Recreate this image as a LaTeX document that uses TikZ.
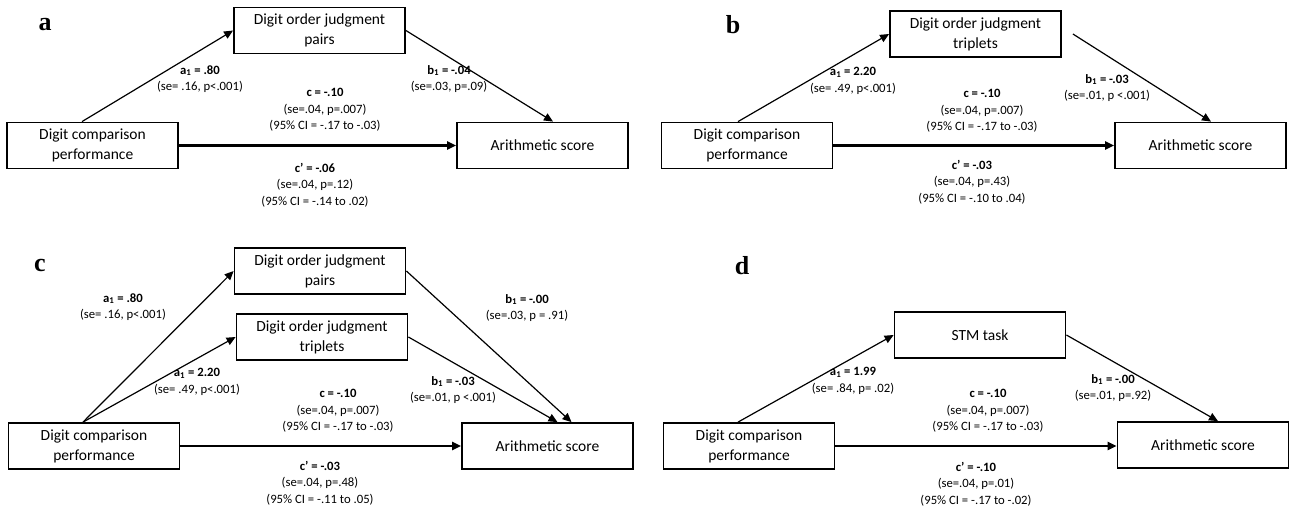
\documentclass[tikz,border=0pt]{standalone}
\usepackage{fontspec}
\setmainfont{Carlito}
\newfontfamily\panelfont{Liberation Serif}
\usepackage{tikz}
\usetikzlibrary{arrows.meta,positioning}

\begin{document}
\begin{tikzpicture}[
        x=1pt, y=-1pt,
        varbox/.style={draw, line width=1.8pt, minimum width=171pt,
            minimum height=46pt, inner sep=0pt, align=center,
            font=\fontsize{15.5}{20}\selectfont},
        coeflabel/.style={inner sep=0pt, align=center,
            font=\fontsize{12.7}{16.5}\selectfont},
        panellabel/.style={inner sep=0pt,
            font=\panelfont\bfseries\fontsize{26}{26}\selectfont},
        patharrow/.style={-{Triangle[length=9pt,width=8pt]}, line width=1.2pt},
        directarrow/.style={-{Triangle[length=9pt,width=8pt]}, line width=2.6pt}
    ]
                \useasboundingbox (0,0) rectangle (1290,509);

                % panel a
                \node[panellabel] (alabel) at (45,25) {a};
                \node[varbox] (adcp) at (92.5,145.5) {Digit comparison\\performance};
                \node[varbox] (amed) at (319.5,30.5) {Digit order judgment\\pairs};
                \node[varbox] (aout) at (542.5,145.5) {Arithmetic score};

                \draw[
                    patharrow
                ] ([xshift=-10.5pt]adcp.north) to (amed.west);

                \draw[
                    patharrow
                ] (amed.east) to ([xshift=10.5pt]aout.north);

                \draw[
                    directarrow
                ] (adcp.east) to (adcp.east -| aout.west);

                \node[coeflabel] (aapath) at (200,79) {\textbf{a\textsubscript{1} = .80}\\(se= .16, p<.001)};
                \node[coeflabel] (abpath) at (449,79) {\textbf{b\textsubscript{1} = -.04}\\(se=.03, p=.09)};
                \node[coeflabel] (actotal) at (325,110) {\textbf{c = -.10}\\(se=.04, p=.007)\\(95\% CI = -.17 to -.03)};
                \node[coeflabel] (acdirect) at (315,185) {\textbf{c' = -.06}\\(se=.04, p=.12)\\(95\% CI = -.14 to .02)};

                % panel b
                \node[panellabel] (blabel) at (733,25) {b};
                \node[varbox] (bdcp) at (747,145.5) {Digit comparison\\performance};
                \node[varbox] (bmed) at (975.5,34) {Digit order judgment\\triplets};
                \node[varbox] (bout) at (1200.5,145.5) {Arithmetic score};

                \draw[
                    patharrow
                ] ([xshift=-9pt]bdcp.north) to (bmed.west);

                \draw[
                    patharrow
                ] ([xshift=11pt]bmed.east) to ([xshift=10.5pt]bout.north);

                \draw[
                    directarrow
                ] (bdcp.east) to (bdcp.east -| bout.west);

                \node[coeflabel] (bapath) at (853,81) {\textbf{a\textsubscript{1} = 2.20}\\(se= .49, p<.001)};
                \node[coeflabel] (bbpath) at (1107,88) {\textbf{b\textsubscript{1} = -.03}\\(se=.01, p <.001)};
                \node[coeflabel] (bctotal) at (982,111) {\textbf{c = -.10}\\(se=.04, p=.007)\\(95\% CI = -.17 to -.03)};
                \node[coeflabel] (bcdirect) at (972,182) {\textbf{c' = -.03}\\(se=.04, p=.43)\\(95\% CI = -.10 to .04)};

                % panel c
                \node[panellabel] (clabel) at (40,265) {c};
                \node[varbox] (cdcp) at (94,446) {Digit comparison\\performance};
                \node[varbox] (cmedpairs) at (320,271) {Digit order judgment\\pairs};
                \node[varbox] (cmedtriplets) at (322,337) {Digit order judgment\\triplets};
                \node[varbox] (cout) at (547.5,446) {Arithmetic score};

                \draw[
                    patharrow
                ] ([xshift=-11pt]cdcp.north) to (cmedpairs.west);

                \draw[
                    patharrow
                ] ([xshift=-11pt]cdcp.north) to (cmedtriplets.west);

                \draw[
                    patharrow
                ] (cmedpairs.east) to ([xshift=24pt]cout.north);

                \draw[
                    patharrow
                ] (cmedtriplets.east) to ([xshift=10pt]cout.north);

                \draw[
                    directarrow
                ] (cdcp.east) to (cdcp.east -| cout.west);

                \node[coeflabel] (capairs) at (123,307) {\textbf{a\textsubscript{1} = .80}\\(se= .16, p<.001)};
                \node[coeflabel] (catriplets) at (197,382) {\textbf{a\textsubscript{1} = 2.20}\\(se= .49, p<.001)};
                \node[coeflabel] (cbpairs) at (527,308) {\textbf{b\textsubscript{1} = -.00}\\(se=.03, p = .91)};
                \node[coeflabel] (cbtriplets) at (453,390) {\textbf{b\textsubscript{1} = -.03}\\(se=.01, p <.001)};
                \node[coeflabel] (cctotal) at (338,411) {\textbf{c = -.10}\\(se=.04, p=.007)\\(95\% CI = -.17 to -.03)};
                \node[coeflabel] (ccdirect) at (320,483) {\textbf{c' = -.03}\\(se=.04, p=.48)\\(95\% CI = -.11 to .05)};

                % panel d
                \node[panellabel] (dlabel) at (742,266) {d};
                \node[varbox] (ddcp) at (749,446) {Digit comparison\\performance};
                \node[varbox] (dmed) at (980,335) {STM task};
                \node[varbox] (dout) at (1203,445) {Arithmetic score};

                \draw[
                    patharrow
                ] ([xshift=-11pt]ddcp.north) to (dmed.west);

                \draw[
                    patharrow
                ] (dmed.east) to ([xshift=15pt]dout.north);

                \draw[
                    directarrow
                ] (ddcp.east) to (ddcp.east -| dout.west);

                \node[coeflabel] (dapath) at (853,381) {\textbf{a\textsubscript{1} = 1.99}\\(se= .84, p= .02)};
                \node[coeflabel] (dbpath) at (1113,388) {\textbf{b\textsubscript{1} = -.00}\\(se=.01, p=.92)};
                \node[coeflabel] (dctotal) at (988,411) {\textbf{c = -.10}\\(se=.04, p=.007)\\(95\% CI = -.17 to -.03)};
                \node[coeflabel] (dcdirect) at (976,484) {\textbf{c' = -.10}\\(se=.04, p=.01)\\(95\% CI = -.17 to -.02)};

\end{tikzpicture}
\end{document}
